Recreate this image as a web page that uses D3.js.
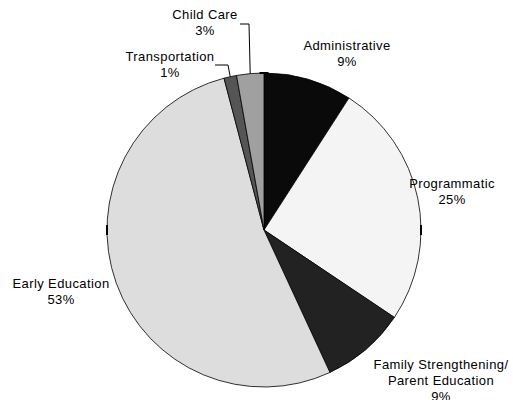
<!DOCTYPE html>
<html>
<head>
<meta charset="UTF-8">
<script src="https://d3js.org/d3.v7.min.js"></script>
<style>
  body { margin: 0; background: #fff; }
  text { font-family: "Liberation Sans", Arial, sans-serif; font-size: 13px; letter-spacing: 0.4px; fill: #000; }
</style>
</head>
<body>
<svg id="chart" width="513" height="400"></svg>
<script>
// data (percent of total)
const categories = ["Administrative", "Programmatic", "Family Strengthening/\nParent Education", "Early Education", "Transportation", "Child Care"];
const values = [9.1, 25.3, 8.7, 52.8, 1.3, 2.8];
const colors = ["#0a0a0a", "#f4f4f4", "#222222", "#dddddd", "#555555", "#a0a0a0"];

const width = 513, height = 400;
const cx = 264, cy = 230, r = 157;

const svg = d3.select("#chart");
const g = svg.append("g").attr("transform", `translate(${cx},${cy})`);

const pie = d3.pie().sort(null).value(d => d.v);
const arcs = pie(values.map((v, i) => ({ v, name: categories[i], color: colors[i] })));
const arc = d3.arc().innerRadius(0).outerRadius(r);

g.selectAll("path")
  .data(arcs)
  .enter().append("path")
  .attr("d", arc)
  .attr("fill", d => d.data.color)
  .attr("stroke", "#000")
  .attr("stroke-width", 0.8);

// small plot-area markers on the pie edge
const marks = [[-157, 0, 2, 10], [157, 0, 2, 10], [0, -157, 9, 2]];
marks.forEach(m => {
  g.append("rect")
    .attr("x", m[0] - m[2] / 2).attr("y", m[1] - m[3] / 2)
    .attr("width", m[2]).attr("height", m[3])
    .attr("fill", "#000");
});

// label positions (x centre, first baseline) and leader lines
const labelPos = [[347, 50], [452, 188], [441, 369], [61, 288], [170, 61], [205, 19]];
const lineH = 16;

arcs.forEach((d, i) => {
  const pct = Math.round(d.data.v) + "%";
  const lines = d.data.name.split("\n").concat([pct]);
  const t = svg.append("text")
    .attr("text-anchor", "middle")
    .attr("x", labelPos[i][0])
    .attr("y", labelPos[i][1]);
  lines.forEach((s, j) => {
    t.append("tspan").attr("x", labelPos[i][0]).attr("dy", j === 0 ? 0 : lineH).text(s);
  });
});

// leader lines for the two small slices
function edgePoint(d, rr) {
  const a = (d.startAngle + d.endAngle) / 2;
  return [cx + rr * Math.sin(a), cy - rr * Math.cos(a)];
}
const leaders = [
  { i: 5, from: [240, 24], elbow: [249, 24] },
  { i: 4, from: [215, 65], elbow: [228, 65] }
];
leaders.forEach(l => {
  const p = edgePoint(arcs[l.i], r);
  svg.append("polyline")
    .attr("points", [l.from, l.elbow, p].map(q => q.join(",")).join(" "))
    .attr("fill", "none")
    .attr("stroke", "#000")
    .attr("stroke-width", 1);
});
</script>
</body>
</html>
